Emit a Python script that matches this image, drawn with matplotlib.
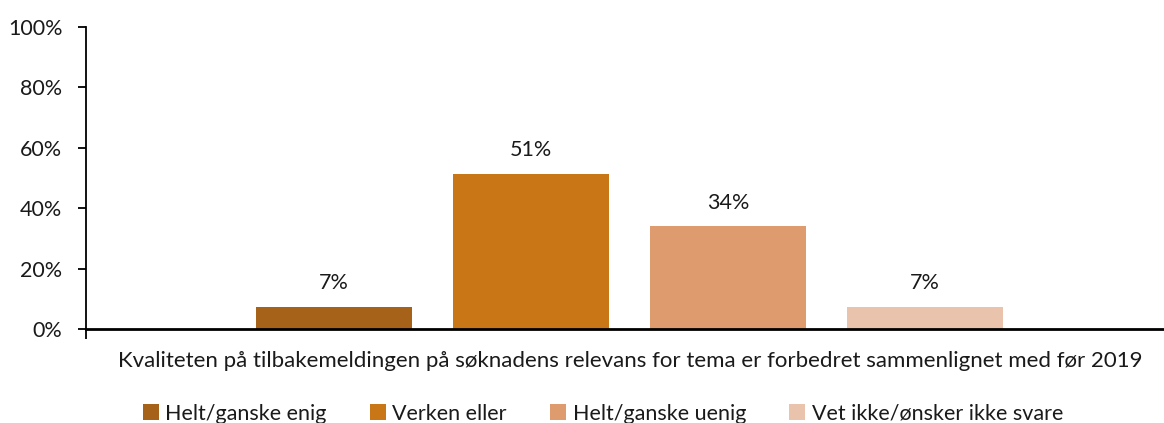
import matplotlib.pyplot as plt
from matplotlib.ticker import PercentFormatter

# data
category = 'Kvaliteten på tilbakemeldingen på søknadens relevans for tema er forbedret sammenlignet med før 2019'
answers = ['Helt/ganske enig', 'Verken eller', 'Helt/ganske uenig', 'Vet ikke/ønsker ikke svare']
shares = [0.074, 0.514, 0.340, 0.073]
colors = ['#A66218', '#C97616', '#DD9B6E', '#E9C3AC']

plt.rcParams['font.family'] = ['Lato', 'DejaVu Sans']
plt.rcParams['font.size'] = 15.5

fig = plt.figure(figsize=(11.64, 4.23), dpi=100)
ax = fig.add_axes([0.0739, 0.222, 0.925, 0.714])

width = 0.145
step = 0.183
for i, (name, val, col) in enumerate(zip(answers, shares, colors)):
    x = (i - 1.5) * step + 0.005
    ax.bar(x, val, width=width, color=col, label=name)
    ax.annotate(f'{val:.0%}', (x, val), xytext=(0, 17), textcoords='offset points',
                ha='center', va='center', color='#1a1a1a')

ax.set_xlim(-0.5, 0.5)
ax.set_ylim(0, 1)
ax.yaxis.set_major_formatter(PercentFormatter(1.0, decimals=0))
ax.set_yticks([0, 0.2, 0.4, 0.6, 0.8, 1.0])
ax.tick_params(axis='y', length=6, width=1.3, colors='black', labelcolor='#1a1a1a', pad=11)
ax.set_xticks([-0.5])
ax.set_xticklabels([''])
ax.tick_params(axis='x', length=7, width=1.3)
ax.text(0.505, -0.105, category, ha='center', va='center', transform=ax.transAxes,
        color='#1a1a1a', fontsize=16)

for s in ['top', 'right']:
    ax.spines[s].set_visible(False)
ax.spines['left'].set_linewidth(1.3)
ax.spines['bottom'].set_linewidth(2)

fig.legend(loc='center', bbox_to_anchor=(0.518, 0.022), ncol=4, frameon=False,
           handlelength=0.75, handleheight=0.75, handletextpad=0.3, columnspacing=2.0,
           labelcolor='#1a1a1a')

fig.savefig('out.png', dpi=100)
